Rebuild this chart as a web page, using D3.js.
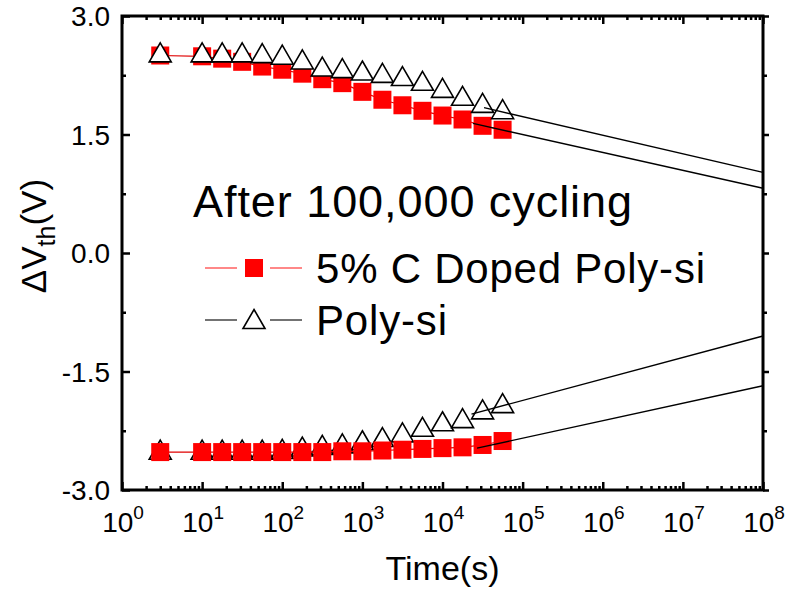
<!DOCTYPE html>
<meta charset="utf-8">
<style>
body { margin: 0; background: #fff; }
text { font-family: "Liberation Sans", Arial, sans-serif; fill: #000; }
.axis path, .axis line { stroke: #000; }
</style>
<body>
<script src="https://cdn.jsdelivr.net/npm/d3@7"></script>
<script>

// time points (s)
var times = [3, 10, 17.8, 31.6, 56.2, 100, 178, 316, 562, 1000, 1778, 3162, 5623, 10000, 17783, 31623, 56234];

// program state
var progDoped = [2.50, 2.49, 2.46, 2.42, 2.36, 2.32, 2.27, 2.20, 2.15, 2.04, 1.94, 1.87, 1.80, 1.74, 1.69, 1.61, 1.56];
var progPoly  = [2.54, 2.54, 2.54, 2.54, 2.53, 2.51, 2.45, 2.36, 2.34, 2.31, 2.28, 2.24, 2.18, 2.09, 1.99, 1.90, 1.82];

// erase state
var eraseDoped = [-2.52, -2.52, -2.52, -2.52, -2.52, -2.52, -2.52, -2.52, -2.51, -2.51, -2.50, -2.49, -2.48, -2.47, -2.46, -2.43, -2.38];
var erasePoly  = [-2.49, -2.49, -2.49, -2.49, -2.49, -2.48, -2.45, -2.43, -2.41, -2.37, -2.33, -2.27, -2.20, -2.13, -2.09, -1.98, -1.90];

// extrapolation lines (start/end)
var fitProgPolyT = [3.3e4, 1e8],  fitProgPolyV = [1.84, 1.02];
var fitProgDopedT = [2.4e4, 1e8], fitProgDopedV = [1.64, 0.82];
var fitErasePolyT = [2.3e4, 1e8], fitErasePolyV = [-2.04, -1.05];
var fitEraseDopedT = [2.7e4, 1e8], fitEraseDopedV = [-2.47, -1.68];

var yTicks = [-3, -1.5, 0, 1.5, 3];
var yMinor = [-2.25, -0.75, 0.75, 2.25];
var xTicks = [1, 1e1, 1e2, 1e3, 1e4, 1e5, 1e6, 1e7, 1e8];

var width = 785, height = 592;
var margin = {left: 122, right: 763, top: 16, bottom: 490};

var svg = d3.select("body").append("svg")
    .attr("width", width)
    .attr("height", height);

var x = d3.scaleLog().domain([1, 1e8]).range([margin.left, margin.right]);
var y = d3.scaleLinear().domain([-3, 3]).range([margin.bottom, margin.top]);

// minor ticks on log axis
var xMinor = [];
xTicks.slice(0, -1).forEach(function(d) {
  for (var k = 2; k <= 9; k++) xMinor.push(d * k);
});

function zip(ts, vs) { return ts.map(function(t, i) { return {t: t, v: vs[i]}; }); }

// ---- axes ----
function addAxis(axis, tr) {
  var g = svg.append("g").attr("class", "axis")
      .attr("transform", tr)
      .call(axis);
  g.select(".domain").remove();
  g.selectAll("line").attr("stroke-width", 2.5);
  return g;
}

var B = "translate(0," + margin.bottom + ")", T = "translate(0," + margin.top + ")";
var L = "translate(" + margin.left + ",0)", R = "translate(" + margin.right + ",0)";
addAxis(d3.axisBottom(x).tickValues(xTicks).tickSize(-8).tickFormat(""), B);
addAxis(d3.axisBottom(x).tickValues(xMinor).tickSize(-4).tickFormat(""), B);
addAxis(d3.axisTop(x).tickValues(xTicks).tickSize(-8).tickFormat(""), T);
addAxis(d3.axisTop(x).tickValues(xMinor).tickSize(-4).tickFormat(""), T);
addAxis(d3.axisLeft(y).tickValues(yTicks).tickSize(-8).tickFormat(""), L);
addAxis(d3.axisLeft(y).tickValues(yMinor).tickSize(-4).tickFormat(""), L);
addAxis(d3.axisRight(y).tickValues(yTicks).tickSize(6).tickFormat(""), R);
addAxis(d3.axisRight(y).tickValues(yMinor).tickSize(4).tickFormat(""), R);

// frame
svg.append("rect")
    .attr("x", margin.left).attr("y", margin.top)
    .attr("width", margin.right - margin.left).attr("height", margin.bottom - margin.top)
    .attr("fill", "none").attr("stroke", "#000").attr("stroke-width", 3);

// y tick labels
svg.selectAll(".ylab").data(yTicks).enter().append("text")
    .attr("x", margin.left - 12)
    .attr("y", function(d) { return y(d) + 10; })
    .attr("text-anchor", "end")
    .style("font-size", "28px")
    .text(function(d) { return d.toFixed(1); });

// x tick labels 10^n
var xl = svg.selectAll(".xlab").data(xTicks).enter().append("text")
    .attr("x", function(d) { return x(d) + 1; })
    .attr("y", margin.bottom + 42)
    .attr("text-anchor", "middle")
    .style("font-size", "28px");
xl.append("tspan").text("10");
xl.append("tspan").attr("dy", -13).style("font-size", "19px")
    .text(function(d) { return Math.round(Math.log10(d)); });

// axis titles
svg.append("text")
    .attr("x", (margin.left + margin.right) / 2)
    .attr("y", 580)
    .attr("text-anchor", "middle")
    .style("font-size", "34px")
    .text("Time(s)");

var yt = svg.append("text")
    .attr("transform", "translate(46,236) rotate(-90)")
    .attr("text-anchor", "middle")
    .style("font-size", "35px");
yt.append("tspan").text("\u0394V");
yt.append("tspan").attr("dy", 9).style("font-size", "25px").text("th");
yt.append("tspan").attr("dy", -9).text("(V)");

// ---- data ----
var line = d3.line()
    .x(function(d) { return x(d.t); })
    .y(function(d) { return y(d.v); });

var triPath = "M0,-9.5L11,9.5L-11,9.5Z";

function squares(vals) {
  var data = zip(times, vals);
  svg.append("path").datum(data)
      .attr("d", line)
      .attr("fill", "none").attr("stroke", "#e00000").attr("stroke-width", 1.2);
  svg.append("g").selectAll("rect").data(data).enter().append("rect")
      .attr("x", function(d) { return x(d.t) - 9; })
      .attr("y", function(d) { return y(d.v) - 9; })
      .attr("width", 18).attr("height", 18)
      .attr("fill", "#ff0000");
}

function triangles(vals) {
  var data = zip(times, vals);
  svg.append("g").selectAll("path").data(data).enter().append("path")
      .attr("d", triPath)
      .attr("transform", function(d) { return "translate(" + x(d.t) + "," + y(d.v) + ")"; })
      .attr("fill", "#fff").attr("stroke", "#000").attr("stroke-width", 1.6)
      .attr("stroke-linejoin", "miter");
}

triangles(erasePoly);
squares(eraseDoped);
squares(progDoped);
triangles(progPoly);

// extrapolation lines
[[fitProgPolyT, fitProgPolyV], [fitProgDopedT, fitProgDopedV],
 [fitErasePolyT, fitErasePolyV], [fitEraseDopedT, fitEraseDopedV]].forEach(function(f) {
  svg.append("path").datum(zip(f[0], f[1]))
      .attr("d", line)
      .attr("fill", "none").attr("stroke", "#000").attr("stroke-width", 1.4);
});

// ---- legend ----
svg.append("text")
    .attr("x", 193).attr("y", 217)
    .style("font-size", "45px")
    .attr("textLength", 439)
    .text("After 100,000 cycling");

var leg = [
  {name: "5% C Doped Poly-si", color: "#ff6060", y: 268, shape: "square", w: 389},
  {name: "Poly-si", color: "#444", y: 320, shape: "tri", w: 131}
];
leg.forEach(function(d) {
  svg.append("line").attr("x1", 205).attr("x2", 237).attr("y1", d.y).attr("y2", d.y)
      .attr("stroke", d.color).attr("stroke-width", 1.5);
  svg.append("line").attr("x1", 270).attr("x2", 302).attr("y1", d.y).attr("y2", d.y)
      .attr("stroke", d.color).attr("stroke-width", 1.5);
  if (d.shape === "square") {
    svg.append("rect").attr("x", 245).attr("y", d.y - 9).attr("width", 18).attr("height", 18)
        .attr("fill", "#ff0000");
  } else {
    svg.append("path").attr("d", triPath)
        .attr("transform", "translate(254," + (d.y - 1) + ")")
        .attr("fill", "#fff").attr("stroke", "#000").attr("stroke-width", 1.6);
  }
  svg.append("text")
      .attr("x", 316).attr("y", d.y + 15)
      .style("font-size", "42px")
      .attr("textLength", d.w)
      .text(d.name);
});

</script>
</body>
